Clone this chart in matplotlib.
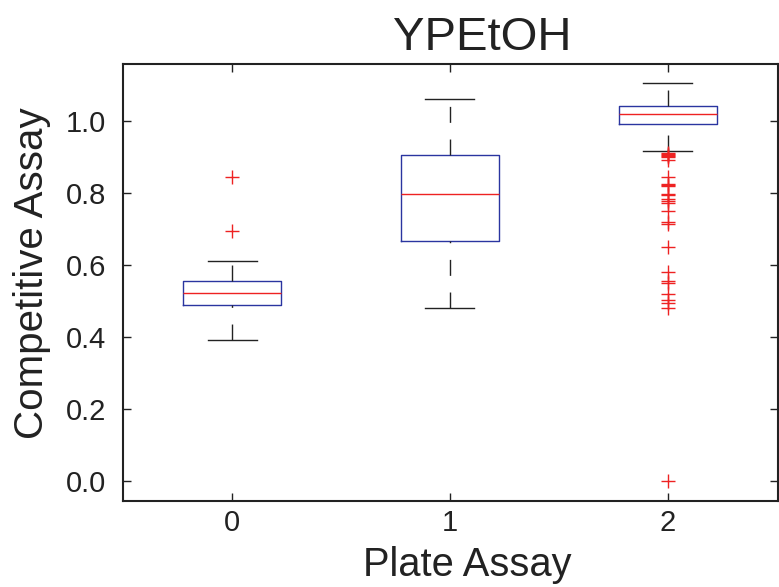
import matplotlib
matplotlib.use("Agg")
import matplotlib.pyplot as plt

plt.rcParams['font.family'] = ['Liberation Sans', 'DejaVu Sans']

categories = [0, 1, 2]
q1 = [0.488, 0.665, 0.990]
medians = [0.523, 0.797, 1.019]
q3 = [0.554, 0.904, 1.040]
whislo = [0.390, 0.481, 0.915]
whishi = [0.612, 1.061, 1.105]
fliers0 = [0.844, 0.694]
fliers1 = []
fliers2 = [0.910, 0.908, 0.906, 0.903, 0.899, 0.890, 0.844, 0.824, 0.822, 0.818,
           0.797, 0.794, 0.783, 0.778, 0.771, 0.750, 0.719, 0.714, 0.649, 0.579,
           0.556, 0.549, 0.519, 0.503, 0.494, 0.481, 0.0]
fliers = [fliers0, fliers1, fliers2]
yticks = [0.0, 0.2, 0.4, 0.6, 0.8, 1.0]

stats = []
for i in range(len(categories)):
    stats.append(dict(med=medians[i], q1=q1[i], q3=q3[i], whislo=whislo[i],
                      whishi=whishi[i], fliers=fliers[i], label=str(categories[i])))

fig = plt.figure(figsize=(7.79, 5.87), dpi=100)
ax = fig.add_axes([0.158, 0.1465, 0.8405, 0.7445])

res = ax.bxp(stats, positions=categories, widths=0.45,
             boxprops=dict(color='#2a35a0', linewidth=1.0),
             medianprops=dict(color='#ee2222', linewidth=1.0),
             whiskerprops=dict(color='#222222', linewidth=1.0, linestyle=(0, (11.5, 12))),
             capprops=dict(color='#222222', linewidth=1.0),
             flierprops=dict(marker='+', markeredgecolor='#ee2222', markersize=10,
                             markeredgewidth=1.0, linestyle='none'))
# lower whiskers drawn from cap toward box
for i, w in enumerate(res['whiskers']):
    if i % 2 == 0:
        xd, yd = w.get_data()
        w.set_data(list(xd)[::-1], list(yd)[::-1])

ax.set_xlim(-0.5, 2.505)
ax.set_ylim(-0.056, 1.158)
ax.set_yticks(yticks)
ax.set_yticklabels(['%.1f' % v for v in yticks])
ax.set_xticks(categories)
ax.set_xticklabels([str(c) for c in categories])
ax.tick_params(direction='in', top=True, right=True, length=6, width=1.0,
               labelsize=21, colors='#222222')
ax.tick_params(axis='y', pad=12)
ax.tick_params(axis='x', pad=6)
for s in ax.spines.values():
    s.set_linewidth(1.5)
    s.set_color('#222222')

ax.set_title('YPEtOH', fontsize=34, pad=10, color='#222222', x=0.548)
ax.set_xlabel('Plate Assay', fontsize=28.7, labelpad=6, color='#222222', x=0.525)
ax.set_ylabel('Competitive Assay', fontsize=29, labelpad=11, color='#222222', y=0.522)

fig.savefig('out.png', dpi=100)
